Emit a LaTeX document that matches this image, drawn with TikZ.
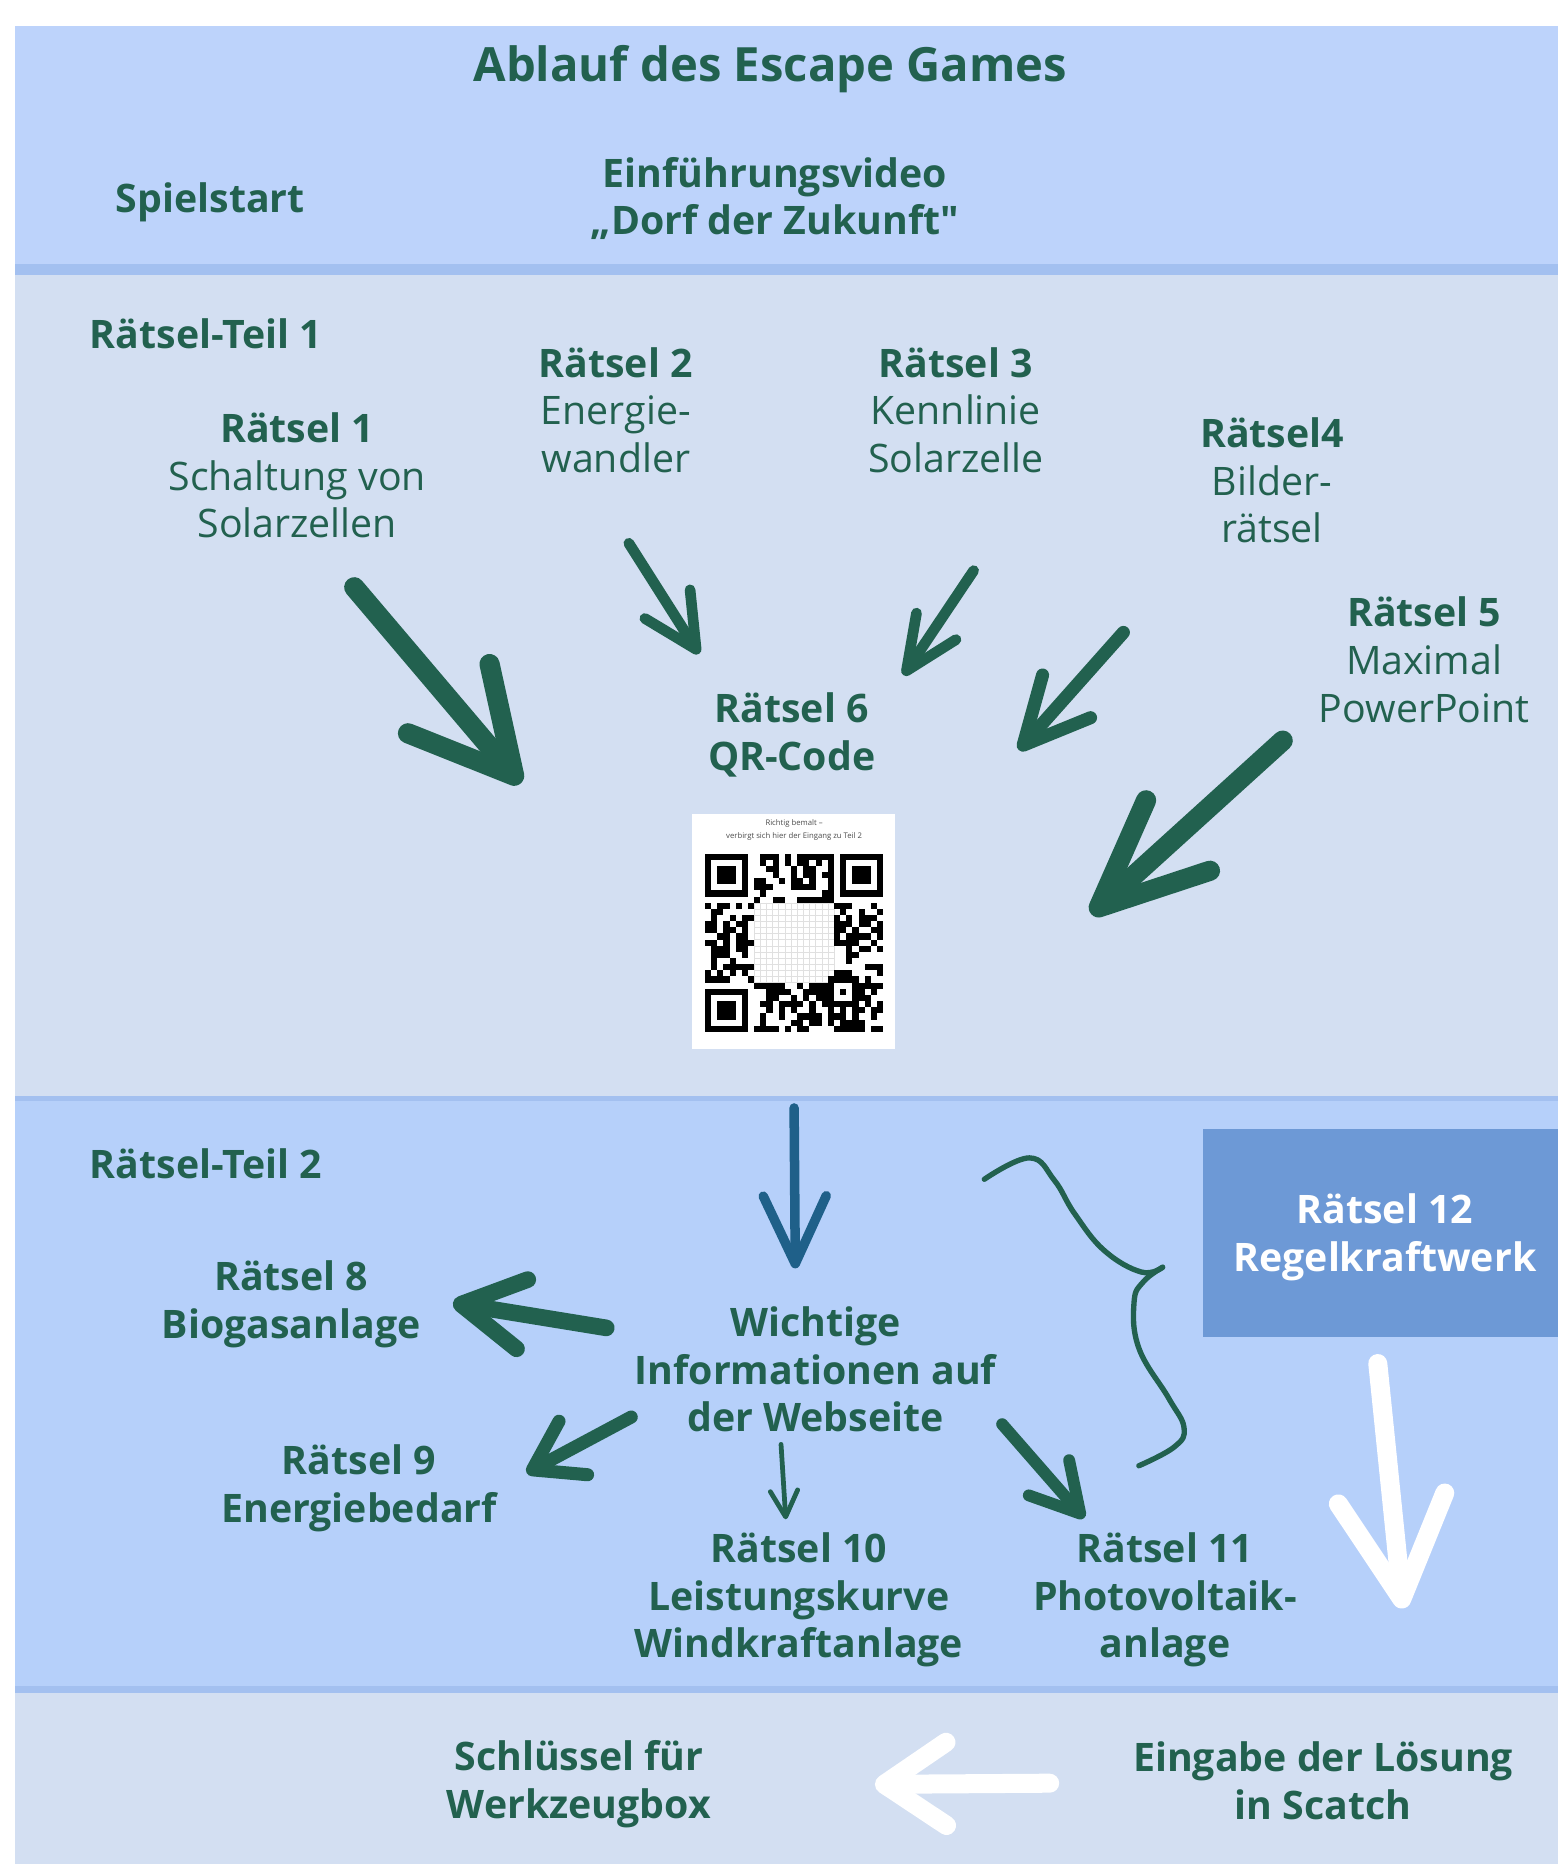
\documentclass[tikz,border=0pt]{standalone}
\usepackage{fontspec}
\setmainfont{Open Sans}
\usetikzlibrary{arrows.meta,positioning}

\definecolor{bandblue}{HTML}{BDD3FB}
\definecolor{bandlight}{HTML}{D3DFF2}
\definecolor{bandmid}{HTML}{B6D0FA}
\definecolor{bandline}{HTML}{A3C0F0}
\definecolor{boxblue}{HTML}{6D99D6}
\definecolor{textgreen}{HTML}{22614F}
\definecolor{arrowblue}{HTML}{1F6089}

\begin{document}
\begin{tikzpicture}[x=0.1mm, y=-0.1mm]

\tikzstyle{titlebox} = [text=textgreen, font=\bfseries\fontsize{11.3}{13.6}\selectfont, inner sep=0]
\tikzstyle{partbox} = [text=textgreen, font=\bfseries\fontsize{9.4}{11.4}\selectfont, inner sep=0, anchor=west]
\tikzstyle{riddlebox} = [text=textgreen, font=\fontsize{9.4}{11.4}\selectfont, align=center, inner sep=0]
\tikzstyle{infobox} = [text=textgreen, font=\bfseries\fontsize{9.4}{11.4}\selectfont, align=center, inner sep=0]
\tikzstyle{bluebox} = [fill=boxblue, text=white, font=\bfseries\fontsize{9.4}{11.4}\selectfont, align=center, minimum width=2.99cm, minimum height=1.75cm, inner sep=0]
\tikzstyle{qrbox} = [fill=white, minimum width=1.7cm, minimum height=1.98cm, inner sep=0]
\tikzstyle{penline} = [draw=textgreen, line cap=round, line join=round]
\tikzstyle{chalkline} = [draw=white, line cap=round, line join=round]

\useasboundingbox (0,0) rectangle (1311,1568);

% bands
\fill[white] (0,0) rectangle (1311,1568);
\fill[bandblue] (12.5,22) rectangle (1311,222);
\fill[bandline] (12.5,222) rectangle (1311,231);
\fill[bandlight] (12.5,231) rectangle (1311,922);
\fill[bandline] (12.5,922) rectangle (1311,926);
\fill[bandmid] (12.5,926) rectangle (1311,1418);
\fill[bandline] (12.5,1418) rectangle (1311,1424);
\fill[bandlight] (12.5,1424) rectangle (1311,1568);

% start
\node[titlebox] (title) at (648,58) {Ablauf des Escape Games};
\node[infobox] (start) at (177,170) {Spielstart};
\node[infobox] (video) at (652,167) {Einführungsvideo\\„Dorf der Zukunft\textquotedbl};

% part 1
\node[partbox] (teil1) at (75,281) {Rätsel-Teil 1};
\node[riddlebox] (r1) at (250,400) {\textbf{Rätsel 1}\\Schaltung von\\Solarzellen};
\node[riddlebox] (r2) at (518,345) {\textbf{Rätsel 2}\\Energie-\\wandler};
\node[riddlebox] (r3) at (804,345) {\textbf{Rätsel 3}\\Kennlinie\\Solarzelle};
\node[riddlebox] (r4) at (1070,404) {\textbf{Rätsel4}\\Bilder-\\rätsel};
\node[riddlebox] (r5) at (1198,555) {\textbf{Rätsel 5}\\Maximal\\PowerPoint};
\node[infobox] (r6) at (666,618) {Rätsel 6\\QR-Code};
\node[qrbox] (qr) at (667.5,783.5) {};
\node[font=\fontsize{1.85}{3.1}\selectfont, text=black!70, align=center, inner sep=0] (qrtext) at (668,698) {Richtig bemalt --\\verbirgt sich hier der Eingang zu Teil 2};

% qr code
\foreach \i in {8,...,21}{
  \draw[black!12, line width=0.1pt] (593+\i*5.17,718+8*5.17) -- (593+\i*5.17,718+21*5.17);
  \draw[black!12, line width=0.1pt] (593+8*5.17,718+\i*5.17) -- (593+21*5.17,718+\i*5.17);
}
\pgfmathsetseed{11}
\foreach \i in {0,...,28}{
  \foreach \j in {0,...,28}{
    \pgfmathtruncatemacro{\qrfree}{((\i<8)&&(\j<8)) || ((\i>20)&&(\j<8)) || ((\i<8)&&(\j>20)) || ((\i>7)&&(\i<21)&&(\j>7)&&(\j<21)) || ((\i>19)&&(\i<25)&&(\j>19)&&(\j<25)) ? 0 : (rnd<0.5 ? 1 : 0)}
    \ifnum\qrfree=1
      \fill (593+\i*5.17,718+\j*5.17) rectangle ++(5.17,5.17);
    \fi
  }
}
\foreach \px/\py in {0/0, 22/0, 0/22}{
  \fill (593+\px*5.17,718+\py*5.17) rectangle ++(36.19,36.19);
  \fill[white] (593+\px*5.17+5.17,718+\py*5.17+5.17) rectangle ++(25.85,25.85);
  \fill (593+\px*5.17+10.34,718+\py*5.17+10.34) rectangle ++(15.51,15.51);
}
\fill (593+20*5.17,718+20*5.17) rectangle ++(25.85,25.85);
\fill[white] (593+21*5.17,718+21*5.17) rectangle ++(15.51,15.51);
\fill (593+22*5.17,718+22*5.17) rectangle ++(5.17,5.17);

% arrows part 1
\coordinate (r1tail) at (298,494);
\coordinate (r1head) at (438,659);
\coordinate (r2tail) at (529,457);
\coordinate (r2head) at (588,550);
\coordinate (r3tail) at (819,480);
\coordinate (r3head) at (760,568);
\coordinate (r4tail) at (945,532);
\coordinate (r4head) at (857,631);
\coordinate (r5tail) at (1079,623);
\coordinate (r5head) at (918,769);
\draw[penline, line width=1.7mm, -{Straight Barb[round, length=8.5mm, width=9mm]}] (r1tail) -- (r1head);
\draw[penline, line width=0.9mm, -{Straight Barb[round, length=4.5mm, width=4.5mm]}] (r2tail) -- (r2head);
\draw[penline, line width=0.9mm, -{Straight Barb[round, length=4.5mm, width=4mm]}] (r3tail) -- (r3head);
\draw[penline, line width=1.1mm, -{Straight Barb[round, length=5.5mm, width=5.4mm]}] (r4tail) -- (r4head);
\draw[penline, line width=1.7mm, -{Straight Barb[round, length=9mm, width=8mm]}] (r5tail) -- (r5head);

% part 2
\node[partbox] (teil2) at (75,979) {Rätsel-Teil 2};
\node[infobox] (r8) at (245,1097) {Rätsel 8\\Biogasanlage};
\node[infobox] (web) at (686,1152) {Wichtige\\Informationen auf\\der Webseite};
\node[infobox] (r9) at (302,1252) {Rätsel 9\\Energiebedarf};
\node[infobox] (r10) at (672,1346) {Rätsel 10\\Leistungskurve\\Windkraftanlage};
\node[infobox] (r11) at (980,1346) {Rätsel 11\\Photovoltaik-\\anlage};
\node[bluebox] (r12) at (1161.5,1037.5) {};
\node[text=white, font=\bfseries\fontsize{9.4}{11.4}\selectfont, align=center, inner sep=0] (r12text) at (1165,1041) {Rätsel 12\\Regelkraftwerk};

\coordinate (qrtail) at (668,932);
\coordinate (qrhead) at (669,1067);
\coordinate (r8tail) at (510,1117);
\coordinate (r8head) at (381,1096);
\coordinate (r9tail) at (531,1192);
\coordinate (r9head) at (443,1239);
\coordinate (r10tail) at (657,1215);
\coordinate (r10head) at (661,1278);
\coordinate (r11tail) at (843,1198);
\coordinate (r11head) at (912,1277);
\draw[penline, draw=arrowblue, line width=0.8mm, -{Straight Barb[round, length=5.7mm, width=5.3mm]}] (qrtail) -- (qrhead);
\draw[penline, line width=1.4mm, -{Straight Barb[round, length=5.2mm, width=5.9mm]}] (r8tail) -- (r8head);
\draw[penline, line width=1.1mm, -{Straight Barb[round, length=3.9mm, width=5.1mm]}] (r9tail) -- (r9head);
\draw[penline, line width=0.4mm, -{Straight Barb[round, length=2.2mm, width=2.3mm]}] (r10tail) -- (r10head);
\draw[penline, line width=1mm, -{Straight Barb[round, length=4mm, width=4.5mm]}] (r11tail) -- (r11head);

% brace
\draw[penline, line width=0.45mm] plot[smooth, tension=0.7] coordinates {(828,992) (866,974) (887,993) (904,1021) (929,1052) (960,1070) (978,1066)};
\draw[penline, line width=0.45mm] plot[smooth, tension=0.7] coordinates {(978,1066) (962,1078) (954,1095) (958,1134) (983,1176) (996,1201) (988,1217) (958,1233)};

% end
\node[infobox] (key) at (487,1501) {Schlüssel für\\Werkzeugbox};
\node[infobox] (input) at (1113,1498) {Eingabe der Lösung\\in Scatch};

\coordinate (r12tail) at (1159,1147);
\coordinate (r12head) at (1180,1353);
\coordinate (keytail) at (883,1500);
\coordinate (keyhead) at (736,1501);
\draw[chalkline, line width=1.6mm, -{Straight Barb[round, length=8.5mm, width=9mm]}] (r12tail) -- (r12head);
\draw[chalkline, line width=1.6mm, -{Straight Barb[round, length=5.2mm, width=7mm]}] (keytail) -- (keyhead);

\end{tikzpicture}
\end{document}
